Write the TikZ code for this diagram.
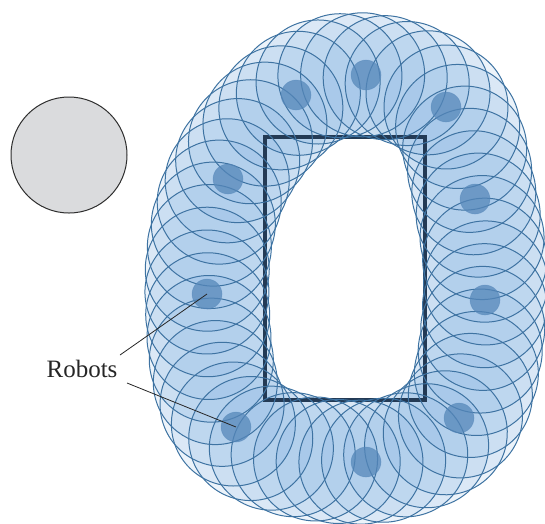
\documentclass[tikz,border=0pt]{standalone}
\usepackage{fontspec}
\setmainfont{Liberation Serif}
\usetikzlibrary{decorations.markings}
\definecolor{cfill}{RGB}{95,155,215}
\definecolor{cline}{RGB}{62,115,162}
\definecolor{rectc}{RGB}{35,58,85}
\definecolor{robotc}{RGB}{85,135,185}
\definecolor{obsfill}{RGB}{218,219,221}
\definecolor{obsline}{RGB}{45,45,45}
\tikzset{
  obstacle/.style={circle, draw=obsline, fill=obsfill, line width=1pt, minimum size=116pt, inner sep=0pt},
  robot/.style={circle, fill=robotc, fill opacity=0.75, draw=robotc, draw opacity=0.4, line width=0.6pt, minimum size=30pt, inner sep=0pt},
  rangefill/.style={fill=cfill, fill opacity=0.12},
  rangeline/.style={draw=cline, line width=1pt},
  leader/.style={draw=black!85, line width=0.8pt},
  lbl/.style={font=\fontsize{25}{30}\selectfont, text=black!85, inner sep=0pt}
}
\begin{document}
\begin{tikzpicture}[x=1pt,y=-1pt]
\useasboundingbox (0,0) rectangle (545,523);
% path of circle centres
\def\centrepath{plot[smooth cycle, tension=0.6] coordinates {(366,75) (446,107) (475,199) (485,300) (459,418) (366,462) (236,427) (207,294) (228,179) (296,95)}}
% fills
\path[decoration={markings, mark=between positions 0 and 0.999 step 0.02083 with {\path[rangefill] (0,0) circle (62pt);}}, decorate] \centrepath;
% target rectangle
\draw[rectc, line width=4pt] (265,137) rectangle (425,400);
% outlines
\path[decoration={markings, mark=between positions 0 and 0.999 step 0.02083 with {\path[rangeline] (0,0) circle (62pt);}}, decorate] \centrepath;
% robots
\node[robot] (r1) at (366,75) {};
\node[robot] (r2) at (446,107) {};
\node[robot] (r3) at (475,199) {};
\node[robot] (r4) at (485,300) {};
\node[robot] (r5) at (459,418) {};
\node[robot] (r6) at (366,462) {};
\node[robot] (r7) at (236,427) {};
\node[robot] (r8) at (207,294) {};
\node[robot] (r9) at (228,179) {};
\node[robot] (r10) at (296,95) {};
% obstacle
\node[obstacle] (obs) at (69,155) {};
% label
\node[lbl] (lab) at (82,369) {Robots};
\coordinate (la) at (120,355);
\coordinate (lb) at (127,383);
\draw[leader] (la) -- (r8.center);
\draw[leader] (lb) -- (r7.center);
\end{tikzpicture}
\end{document}
